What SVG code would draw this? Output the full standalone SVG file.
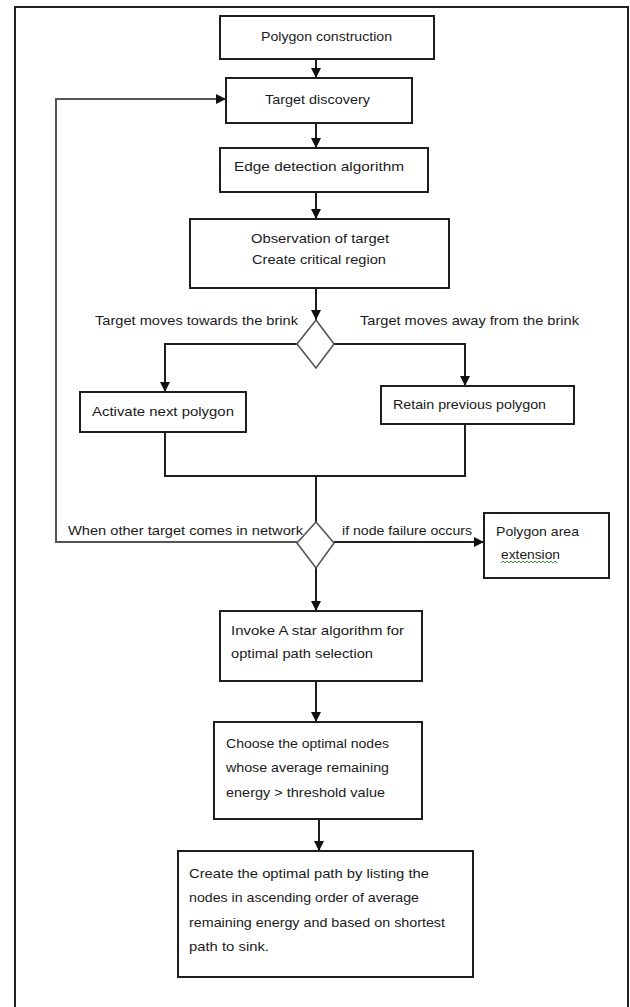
<svg xmlns="http://www.w3.org/2000/svg" width="630" height="1007" viewBox="0 0 630 1007">
<defs>
<style>
.box{fill:#fff;stroke:#1e1e1e;stroke-width:2}
.dia{fill:#fff;stroke:#555;stroke-width:1.6}
.t{font-family:"Liberation Sans",Arial,sans-serif;font-size:13.5px;fill:#1a1a1a}
.c{fill:none;stroke:#1e1e1e;stroke-width:2}
.fb{fill:none;stroke:#555;stroke-width:2}
</style>
<marker id="ah" markerUnits="userSpaceOnUse" markerWidth="10" markerHeight="10" refX="10" refY="5" orient="auto">
<path d="M0,0 L10,5 L0,10 z" fill="#111"/>
</marker>
</defs>
<rect width="630" height="1007" fill="#fff"/>
<path d="M15,1010 V7 H628 V1010" fill="none" stroke="#222" stroke-width="2"/>

<g id="connectors">
<path class="c" d="M316,59 V78" marker-end="url(#ah)"/>
<path class="c" d="M316,123 V148" marker-end="url(#ah)"/>
<path class="c" d="M316,192 V219" marker-end="url(#ah)"/>
<path class="c" d="M316,288 V320" marker-end="url(#ah)"/>
<path class="c" d="M297,344 H165 V392" marker-end="url(#ah)"/>
<path class="c" d="M334,344 H465 V386" marker-end="url(#ah)"/>
<path class="c" d="M165,432 V476 H465 V424"/>
<path class="c" d="M316,476 V522"/>
<path class="fb" d="M297,542 H56 V99 H226" marker-end="url(#ah)"/>
<path class="c" d="M334,542 H484" marker-end="url(#ah)"/>
<path class="c" d="M316,568 V611" marker-end="url(#ah)"/>
<path class="c" d="M316,681 V722" marker-end="url(#ah)"/>
<path class="c" d="M319,819 V851" marker-end="url(#ah)"/>
</g>

<g id="n1">
<rect class="box" x="220" y="16" width="214" height="43"/>
<text class="t" x="261" y="41" textLength="131" lengthAdjust="spacingAndGlyphs">Polygon construction</text>
</g>
<g id="n2">
<rect class="box" x="226" y="78" width="186" height="45"/>
<text class="t" x="265" y="104" textLength="105" lengthAdjust="spacingAndGlyphs">Target discovery</text>
</g>
<g id="n3">
<rect class="box" x="220" y="148" width="208" height="44"/>
<text class="t" x="234" y="171" textLength="170" lengthAdjust="spacingAndGlyphs">Edge detection algorithm</text>
</g>
<g id="n4">
<rect class="box" x="190" y="219" width="259" height="69"/>
<text class="t" x="251" y="243" textLength="138" lengthAdjust="spacingAndGlyphs">Observation of target</text>
<text class="t" x="252" y="264" textLength="134" lengthAdjust="spacingAndGlyphs">Create critical region</text>
</g>
<g id="d1">
<polygon class="dia" points="316,320 334,344 316,368 297,344"/>
<text class="t" x="95" y="325" textLength="203" lengthAdjust="spacingAndGlyphs">Target moves towards the brink</text>
<text class="t" x="360" y="325" textLength="219" lengthAdjust="spacingAndGlyphs">Target moves away from the brink</text>
</g>
<g id="n5">
<rect class="box" x="80" y="392" width="166" height="40"/>
<text class="t" x="92" y="416" textLength="142" lengthAdjust="spacingAndGlyphs">Activate next polygon</text>
</g>
<g id="n6">
<rect class="box" x="381" y="386" width="193" height="38"/>
<text class="t" x="393" y="409" textLength="153" lengthAdjust="spacingAndGlyphs">Retain previous polygon</text>
</g>
<g id="d2">
<polygon class="dia" points="316,522 334,543 316,568 297,543"/>
<text class="t" x="68" y="535" textLength="235" lengthAdjust="spacingAndGlyphs">When other target comes in network</text>
<text class="t" x="342" y="535" textLength="130" lengthAdjust="spacingAndGlyphs">if node failure occurs</text>
</g>
<g id="n7">
<rect class="box" x="484" y="513" width="125" height="65"/>
<text class="t" x="496" y="536" textLength="83" lengthAdjust="spacingAndGlyphs">Polygon area</text>
<text class="t" x="501" y="559" textLength="59" lengthAdjust="spacingAndGlyphs">extension</text>
<path d="M501,563 l2,-2 l2,2 l2,-2 l2,2 l2,-2 l2,2 l2,-2 l2,2 l2,-2 l2,2 l2,-2 l2,2 l2,-2 l2,2 l2,-2 l2,2 l2,-2 l2,2 l2,-2 l2,2 l2,-2 l2,2 l2,-2 l2,2 l2,-2 l2,2 l2,-2 l2,2" fill="none" stroke="#3a9a3a" stroke-width="1"/>
</g>
<g id="n8">
<rect class="box" x="220" y="611" width="202" height="70"/>
<text class="t" x="231" y="635" textLength="173" lengthAdjust="spacingAndGlyphs">Invoke A star algorithm for</text>
<text class="t" x="231" y="658" textLength="142" lengthAdjust="spacingAndGlyphs">optimal path selection</text>
</g>
<g id="n9">
<rect class="box" x="214" y="722" width="208" height="97"/>
<text class="t" x="226" y="748" textLength="163" lengthAdjust="spacingAndGlyphs">Choose the optimal nodes</text>
<text class="t" x="226" y="772" textLength="163" lengthAdjust="spacingAndGlyphs">whose average remaining</text>
<text class="t" x="226" y="797" textLength="159" lengthAdjust="spacingAndGlyphs">energy &gt; threshold value</text>
</g>
<g id="n10">
<rect class="box" x="178" y="851" width="295" height="126"/>
<text class="t" x="189" y="878" textLength="240" lengthAdjust="spacingAndGlyphs">Create the optimal path by listing the</text>
<text class="t" x="189" y="902" textLength="230" lengthAdjust="spacingAndGlyphs">nodes in ascending  order of average</text>
<text class="t" x="189" y="927" textLength="256" lengthAdjust="spacingAndGlyphs">remaining energy and based on shortest</text>
<text class="t" x="189" y="951" textLength="80" lengthAdjust="spacingAndGlyphs">path to sink.</text>
</g>
</svg>
